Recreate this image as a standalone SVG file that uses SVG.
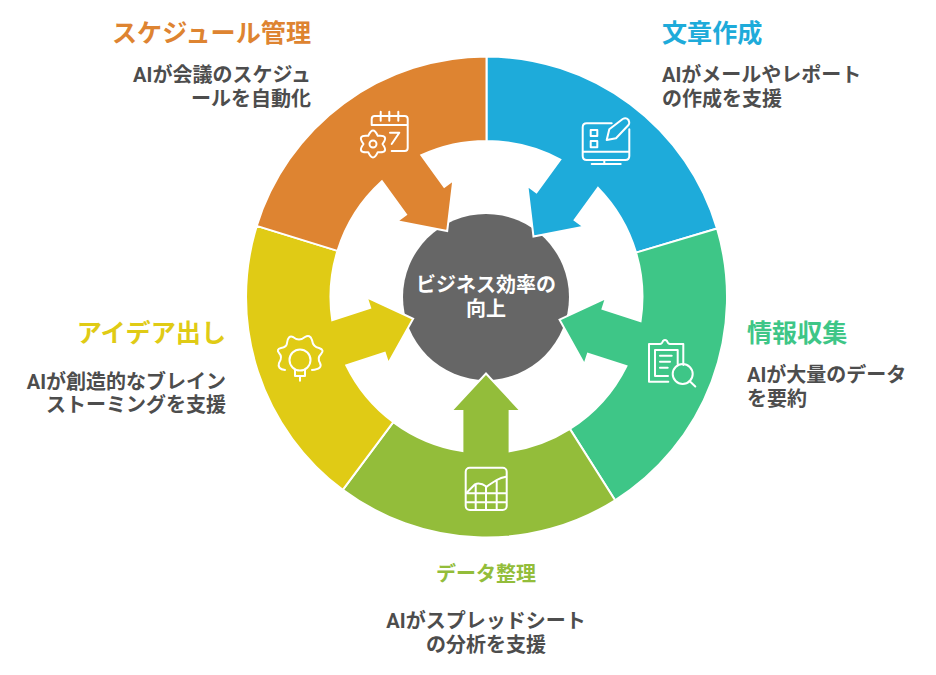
<svg xmlns="http://www.w3.org/2000/svg" width="936" height="675" viewBox="0 0 936 675">
<style>
text{font-family:"Roboto","Noto Sans CJK JP",sans-serif;font-weight:700}
.t{font-size:25.1px}.d{font-size:20px;fill:#4d4d4d}
.s{stroke:#fff;stroke-width:2;stroke-linejoin:miter}
.i{fill:none;stroke:#fff;stroke-width:2;stroke-linecap:round;stroke-linejoin:round}
.e{text-anchor:end}.m{text-anchor:middle}
</style>
<rect width="936" height="675" fill="#fff"/>
<g id="center"><circle cx="486" cy="297" r="83" fill="#666"/>
<text class="m" x="486" y="292" font-size="20" fill="#fff">ビジネス効率の</text>
<text class="m" x="486" y="316" font-size="20" fill="#fff">向上</text></g>
<g id="connectors">
<path id="c-blue" class="s" fill="#1eabda" transform="translate(486.5 297) rotate(36)" d="M-141.37-194.57A240.5 240.5 0 0 1 146.2-190.9L94.9-123.8A156 156 0 0 0 26.1-153.8L26.1-114L37.3-114L2.5-76.5L-32.3-114L-21.1-114L-21.1-154.6A156 156 0 0 0-91.7-126.2Z"/>
<path id="c-green" class="s" fill="#3ec687" transform="translate(486.5 297) rotate(108)" d="M-136.4-198.1A240.5 240.5 0 0 1 153.6-185.1L99.7-120A156 156 0 0 0 22.6-154.4L22.6-114L33.8-114L-1-76.5L-35.8-114L-24.6-114L-24.6-154A156 156 0 0 0-88.4-128.5Z"/>
<path id="c-lime" class="s" fill="#93bd3a" transform="translate(486.5 297) rotate(180)" d="M-128.6-203.3A240.5 240.5 0 0 1 143.7-192.8L93.2-125.1A156 156 0 0 0 24.1-154.1L24.1-114L35.3-114L0.5-76.5L-34.3-114L-23.1-114L-23.1-154.3A156 156 0 0 0-83.4-131.9Z"/>
<path id="c-yellow" class="s" fill="#e0cb15" transform="translate(486.5 297) rotate(-108)" d="M-139-196.3A240.5 240.5 0 0 1 138.6-196.5L89.9-127.5A156 156 0 0 0 25.6-153.9L25.6-114L36.8-114L2-76.5L-32.8-114L-21.6-114L-21.6-154.5A156 156 0 0 0-90.1-127.3Z"/>
<path id="c-orange" class="s" fill="#de8431" transform="translate(486.5 297) rotate(-36)" d="M-144.1-192.6A240.5 240.5 0 0 1 141.37-194.57L91.7-126.2A156 156 0 0 0 30.6-153L30.6-114L41.8-114L7-76.5L-27.8-114L-16.6-114L-16.6-155.1A156 156 0 0 0-93.4-124.9Z"/>
</g>
<g id="node-writing">
<text class="t" x="662" y="42" fill="#1eabda">文章作成</text>
<text class="d" x="662" y="82">AIがメールやレポート</text>
<text class="d" x="662" y="106">の作成を支援</text>
<path class="i" d="M611.7 123.3H586.7Q582.7 123.3 582.7 127.3V156Q582.7 160 586.7 160H625.3Q629.3 160 629.3 156V129.3M582.7 151.7H629.3M604.3 160V164M591.7 164H620.7M590.7 130H597.3V136H590.7ZM590.7 141H597.3V147.3H590.7ZM606.7 140L609.3 129.3L622.7 119Q626 117 628.5 120Q630 123 628.5 125L616 138.3Z"/>
</g>
<g id="node-research">
<text class="t" x="747" y="342" fill="#3ec687">情報収集</text>
<text class="d" x="747" y="382">AIが大量のデータ</text>
<text class="d" x="747" y="406">を要約</text>
<path class="i" d="M668.3 381.7H649V344H660Q662 344 663 341Q665 339 667 341Q668 344 670 344H683.3V365M668 376H655V350H677.7V364M660 355.7H671.7M660 361.7H670M660 367.7H667.7"/>
<circle class="i" cx="682.7" cy="374" r="10"/><path class="i" d="M689.5 381L695.3 386.5"/>
</g>
<g id="node-data">
<text class="t m" x="486" y="581" style="font-size:20px" fill="#93bd3a">データ整理</text>
<text class="d m" x="486" y="628">AIがスプレッドシート</text>
<text class="d m" x="486" y="652">の分析を支援</text>
<rect class="i" x="465.7" y="467.7" width="41" height="42.3" rx="4"/>
<path class="i" d="M466.7 492.7L475 484.3Q480 482 486.7 486.7Q490 484 496.7 480Q501 477.5 506 476.7M466.7 493.3H506M466.7 502.3H506M475.7 485V510M486 486.7V510M496.7 480V510"/>
</g>
<g id="node-ideas">
<text class="t e" x="226" y="342" fill="#e0cb15">アイデア出し</text>
<text class="d e" x="226" y="389">AIが創造的なブレイン</text>
<text class="d e" x="226" y="412">ストーミングを支援</text>
<circle class="i" cx="300" cy="360" r="10.5"/>
<path class="i" d="M295 370V376H305V370M300 376V380.7M285 370Q277 369 279 363Q283 357 279 353Q276 349 281 348Q287 347 287 343Q288 335 293 337Q299 342 305 337Q310 334 312 340Q313 347 319 348Q325 350 321 354Q317 358 320 363Q323 369 312 370"/>
</g>
<g id="node-schedule">
<text class="t e" x="311" y="42" fill="#de8431">スケジュール管理</text>
<text class="d e" x="311" y="82">AIが会議のスケジュ</text>
<text class="d e" x="311" y="106">ールを自動化</text>
<path class="i" d="M371.7 125V119Q371.7 116 374.7 116H404.7Q407.7 116 407.7 119V148Q407.7 151 404.7 151H391.7M371.7 125H407.7M380.7 111.7V120.7M389.3 111.7V120.7M398.3 111.7V120.7M390 132.7H399.3L391.7 144"/>
<path class="i" transform="translate(373 144)" d="M4.75-8.2Q16.5-9.5 9.5 0Q16.5 9.5 4.75 8.2Q0 19-4.75 8.2Q-16.5 9.5-9.5 0Q-16.5-9.5-4.75-8.2Q0-19 4.75-8.2Z"/>
<circle class="i" cx="373" cy="144" r="3.5"/>
</g>
</svg>
